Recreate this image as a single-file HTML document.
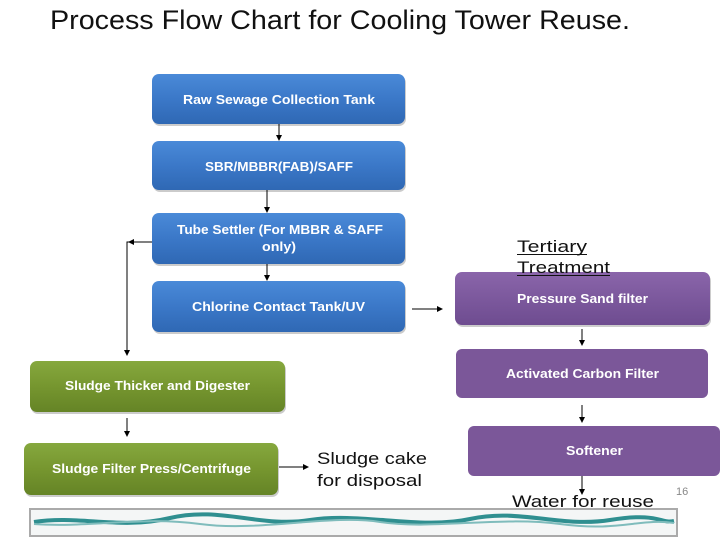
<!DOCTYPE html>
<html><head><meta charset="utf-8"><style>
html,body{margin:0;padding:0;background:#fff;}
svg{display:block;font-family:"Liberation Sans",sans-serif;}
.bt{font-weight:bold;font-size:12.5px;fill:#fff;}
</style></head><body>
<svg width="728" height="546" viewBox="0 0 728 546" xmlns="http://www.w3.org/2000/svg">
<defs>
<linearGradient id="gb" x1="0" y1="0" x2="0" y2="1"><stop offset="0" stop-color="#4a8ad8"/><stop offset="0.5" stop-color="#3b78c8"/><stop offset="1" stop-color="#2f68b4"/></linearGradient>
<linearGradient id="gg" x1="0" y1="0" x2="0" y2="1"><stop offset="0" stop-color="#86a83e"/><stop offset="0.5" stop-color="#76962f"/><stop offset="1" stop-color="#658426"/></linearGradient>
<linearGradient id="gp" x1="0" y1="0" x2="0" y2="1"><stop offset="0" stop-color="#8a65aa"/><stop offset="1" stop-color="#6e4c90"/></linearGradient>
<marker id="ar" markerWidth="6" markerHeight="6" refX="5" refY="3" orient="auto" markerUnits="userSpaceOnUse"><path d="M0,0 L6,3 L0,6 z" fill="#000"/></marker>
</defs>
<text x="50" y="29" font-size="27" textLength="580" lengthAdjust="spacingAndGlyphs" fill="#111">Process Flow Chart for Cooling Tower Reuse.</text>

<g fill="#999" opacity="0.5">
<rect x="153" y="76" width="253" height="50" rx="7"/>
<rect x="153" y="143" width="253" height="49" rx="7"/>
<rect x="153" y="215" width="253" height="51" rx="7"/>
<rect x="153" y="283" width="253" height="51" rx="7"/>
<rect x="31" y="363" width="255" height="51" rx="7"/>
<rect x="25" y="445" width="254" height="52" rx="7"/>
<rect x="456" y="274" width="255" height="53" rx="7"/>
</g>
<g stroke="none">
<rect x="152" y="74" width="253" height="50" rx="7" fill="url(#gb)"/>
<rect x="152" y="141" width="253" height="49" rx="7" fill="url(#gb)"/>
<rect x="152" y="213" width="253" height="51" rx="7" fill="url(#gb)"/>
<rect x="152" y="281" width="253" height="51" rx="7" fill="url(#gb)"/>
<rect x="30" y="361" width="255" height="51" rx="7" fill="url(#gg)"/>
<rect x="24" y="443" width="254" height="52" rx="7" fill="url(#gg)"/>
<rect x="455" y="272" width="255" height="53" rx="7" fill="url(#gp)"/>
<rect x="456" y="349" width="252" height="49" rx="6" fill="#7b5799"/>
<rect x="468" y="426" width="252" height="50" rx="6" fill="#7b5799"/>
</g>

<text class="bt" x="183" y="104" textLength="192" lengthAdjust="spacingAndGlyphs">Raw Sewage Collection Tank</text>
<text class="bt" x="205" y="171" textLength="148" lengthAdjust="spacingAndGlyphs">SBR/MBBR(FAB)/SAFF</text>
<text class="bt" x="177" y="234" textLength="206" lengthAdjust="spacingAndGlyphs">Tube Settler (For MBBR &amp; SAFF</text>
<text class="bt" x="262" y="251" textLength="34" lengthAdjust="spacingAndGlyphs">only)</text>
<text class="bt" x="192" y="311" textLength="173" lengthAdjust="spacingAndGlyphs">Chlorine Contact Tank/UV</text>
<text class="bt" x="65" y="390" textLength="185" lengthAdjust="spacingAndGlyphs">Sludge Thicker and Digester</text>
<text class="bt" x="52" y="473" textLength="199" lengthAdjust="spacingAndGlyphs">Sludge Filter Press/Centrifuge</text>
<text class="bt" x="517" y="303" textLength="131" lengthAdjust="spacingAndGlyphs">Pressure Sand filter</text>
<text class="bt" x="506" y="378" textLength="153" lengthAdjust="spacingAndGlyphs">Activated Carbon Filter</text>
<text class="bt" x="566" y="455" textLength="57" lengthAdjust="spacingAndGlyphs">Softener</text>

<g stroke="#000" stroke-width="1" fill="none" marker-end="url(#ar)">
<line x1="279" y1="124" x2="279" y2="140"/>
<line x1="267" y1="190" x2="267" y2="212"/>
<line x1="267" y1="264" x2="267" y2="280"/>
<line x1="152" y1="242" x2="129" y2="242"/>
<line x1="412" y1="309" x2="442" y2="309"/>
<line x1="127" y1="418" x2="127" y2="436"/>
<line x1="279" y1="467" x2="308" y2="467"/>
<line x1="582" y1="329" x2="582" y2="345"/>
<line x1="582" y1="405" x2="582" y2="422"/>
<line x1="582" y1="476" x2="582" y2="494"/>
<polyline points="129,242 127,242 127,355"/>
</g>

<text x="517" y="252" font-size="17" fill="#111" textLength="70" lengthAdjust="spacingAndGlyphs">Tertiary</text>
<text x="517" y="273" font-size="17" fill="#111" textLength="93" lengthAdjust="spacingAndGlyphs">Treatment</text>
<line x1="517" y1="254.5" x2="587" y2="254.5" stroke="#111" stroke-width="1"/>
<line x1="517" y1="275.5" x2="610" y2="275.5" stroke="#111" stroke-width="1"/>
<text x="317" y="464" font-size="17" fill="#111" textLength="110" lengthAdjust="spacingAndGlyphs">Sludge cake</text>
<text x="317" y="486" font-size="17" fill="#111" textLength="105" lengthAdjust="spacingAndGlyphs">for disposal</text>
<text x="512" y="507" font-size="17" fill="#111" textLength="142" lengthAdjust="spacingAndGlyphs">Water for reuse</text>
<text x="676" y="495" font-size="11" fill="#888">16</text>

<rect x="30" y="509" width="647" height="27" fill="#f4f6f6" stroke="#aaa" stroke-width="2"/>
<path d="M34,522 C80,515 120,530 170,518 S260,528 310,520 S420,530 470,519 S560,528 610,520 S660,524 674,521" stroke="#2f8f90" stroke-width="4" fill="none"/>
<path d="M34,524 C90,528 140,516 200,524 S330,514 380,522 S500,516 560,524 S640,518 674,523" stroke="#7fbcbc" stroke-width="2" fill="none"/>
</svg>
</body></html>
